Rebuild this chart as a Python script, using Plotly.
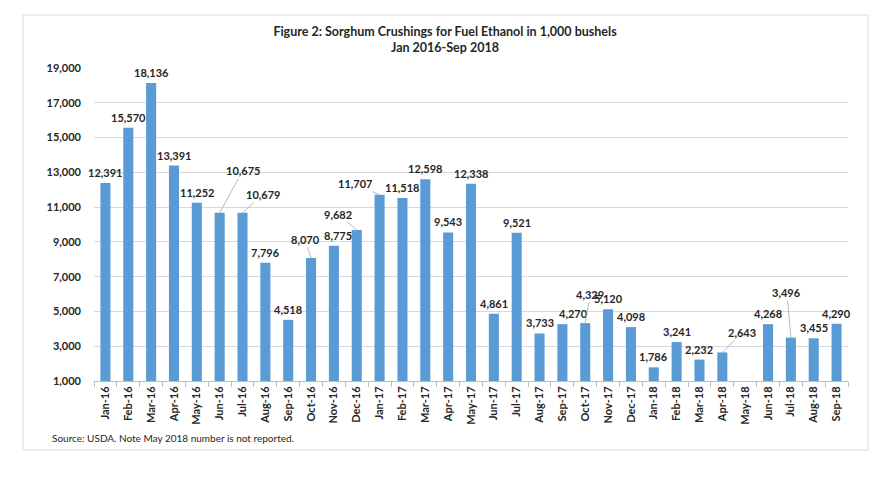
import plotly.graph_objects as go

categories = ["Jan-16", "Feb-16", "Mar-16", "Apr-16", "May-16", "Jun-16", "Jul-16", "Aug-16",
              "Sep-16", "Oct-16", "Nov-16", "Dec-16", "Jan-17", "Feb-17", "Mar-17", "Apr-17",
              "May-17", "Jun-17", "Jul-17", "Aug-17", "Sep-17", "Oct-17", "Nov-17", "Dec-17",
              "Jan-18", "Feb-18", "Mar-18", "Apr-18", "May-18", "Jun-18", "Jul-18", "Aug-18",
              "Sep-18"]
values = [12391, 15570, 18136, 13391, 11252, 10675, 10679, 7796,
          4518, 8070, 8775, 9682, 11707, 11518, 12598, 9543,
          12338, 4861, 9521, 3733, 4270, 4329, 5120, 4098,
          1786, 3241, 2232, 2643, None, 4268, 3496, 3455,
          4290]
y_ticks = [1000, 3000, 5000, 7000, 9000, 11000, 13000, 15000, 17000, 19000]

# label placement (pixel offsets) for labels moved off their bars with leader lines
leader_offsets = {"Jun-16": (23, -42), "Jul-16": (20, -18), "Oct-16": (-6, -19),
                  "Dec-16": (-19, -16), "Jan-17": (-25, -11),
                  "Oct-17": (5, -29), "Apr-18": (20, -20), "Jul-18": (-4, -45)}
shifted = {"Sep-17": 11, "Nov-16": 4}

FONT = "Lato"
BLUE = "#5B9BD5"
TXT = "#262626"

# the page body adds an 8px offset; figure is sized so the picture aligns
W, H, OFF = 883, 471, 8
L, T, PW, PH = 94 - OFF, 68 - OFF, 754, 313

fig = go.Figure()
fig.add_trace(go.Bar(x=categories, y=values, marker=dict(color=BLUE, line=dict(width=0)),
                     hoverinfo="x+y"))

annotations = []
for c, v in zip(categories, values):
    if v is None:
        continue
    txt = f"{v:,}"
    f = dict(family=FONT, size=11, color=TXT, weight="bold")
    if c in leader_offsets:
        ax, ay = leader_offsets[c]
        annotations.append(dict(x=c, y=v, xref="x", yref="y", text=txt, font=f,
                                showarrow=True, arrowhead=0, arrowwidth=0.8,
                                arrowcolor="#A6A6A6", ax=ax, ay=ay, standoff=0))
    else:
        annotations.append(dict(x=c, y=v, xref="x", yref="y", text=txt, font=f,
                                showarrow=False, yanchor="bottom", yshift=2,
                                xshift=shifted.get(c, 0)))

annotations.append(dict(x=(50 - 94) / PW, y=(381 - 438) / PH, xref="paper", yref="paper",
                        text="Source: USDA. Note May 2018 number is not reported.",
                        showarrow=False, xanchor="left", yanchor="middle",
                        font=dict(family=FONT, size=10, color=TXT)))

fig.update_layout(
    width=W, height=H,
    margin=dict(l=L, r=W - L - PW, t=T, b=H - T - PH, autoexpand=False),
    paper_bgcolor="white", plot_bgcolor="white",
    showlegend=False,
    bargap=0.56,
    font=dict(family=FONT, color=TXT),
    title=dict(text="<b>Figure 2: Sorghum Crushings for Fuel Ethanol in 1,000 bushels<br>Jan 2016-Sep 2018</b>",
               xref="container", x=(445 - OFF) / W, xanchor="center",
               yref="container", y=1 - (35.5 - OFF) / H, yanchor="middle",
               font=dict(family=FONT, size=12.5, color=TXT)),
    xaxis=dict(type="category", tickangle=-90, showgrid=False,
               tickfont=dict(family=FONT, size=11, color=TXT, weight="bold"),
               showline=True, linecolor="#BFBFBF", linewidth=1,
               ticks="outside", tickson="boundaries", ticklen=5, tickcolor="#BFBFBF",
               range=[-0.5, len(categories) - 0.5]),
    yaxis=dict(range=[1000, 19000], tickvals=y_ticks, tickformat=",",
               showgrid=True, gridcolor="#D9D9D9", gridwidth=1, zeroline=False,
               showline=False, ticks="", ticklabelstandoff=12,
               tickfont=dict(family=FONT, size=11, color=TXT, weight="bold")),
    annotations=annotations,
)

fig.add_shape(type="rect", xref="paper", yref="paper",
              x0=(23 - 94) / PW, x1=(868 - 94) / PW,
              y0=(381 - 450) / PH, y1=(381 - 15) / PH,
              line=dict(color="#D9D9D9", width=1), fillcolor="rgba(0,0,0,0)", layer="below")

fig.write_html("out.html")
